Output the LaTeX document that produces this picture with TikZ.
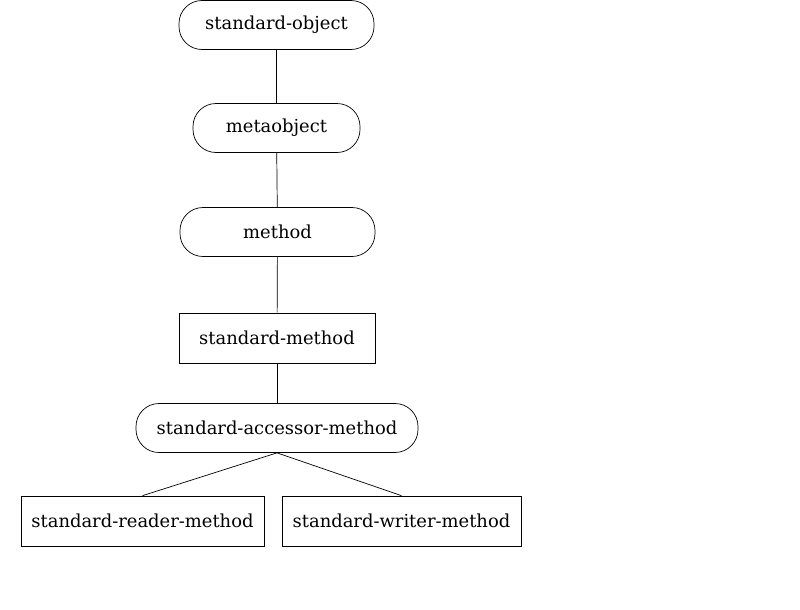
\documentclass[tikz,border=0pt]{standalone}
\usepackage{fontspec}
\setmainfont{DejaVu Serif}
\usepackage{tikz}
\usetikzlibrary{positioning}

\begin{document}
\begin{tikzpicture}[
    rounded_class/.style={draw, rounded corners=0.46cm, inner sep=0pt, minimum height=0.98cm, font=\fontsize{10.2}{12}\selectfont},
    plain_class/.style={draw, inner sep=0pt, minimum height=1cm, font=\fontsize{10.2}{12}\selectfont}
  ]
  \useasboundingbox (0, 0) rectangle (16, -12.18);
  \node (std_object) [rounded_class, minimum width=3.9cm] at (5.53, -0.5) {standard-object};
  \node (metaobject) [rounded_class, minimum width=3.34cm] at (5.53, -2.56) {metaobject};
  \node (method) [rounded_class, minimum width=3.9cm] at (5.55, -4.64) {method};
  \node (std_method) [plain_class, minimum width=3.92cm] at (5.54, -6.76) {standard-method};
  \node (accessor_method) [rounded_class, minimum width=5.64cm] at (5.54, -8.56) {standard-accessor-method};
  \node (reader_method) [plain_class, minimum width=4.86cm] at (2.85, -10.42) {standard-reader-method};
  \node (writer_method) [plain_class, minimum width=4.78cm] at (8.03, -10.42) {standard-writer-method};
  \draw (std_object) -- (metaobject);
  \draw (metaobject) -- (method);
  \draw (method) -- (std_method);
  \draw (std_method) -- (accessor_method);
  \draw (accessor_method.south) -- (reader_method.north);
  \draw (accessor_method.south) -- (writer_method.north);
\end{tikzpicture}
\end{document}
